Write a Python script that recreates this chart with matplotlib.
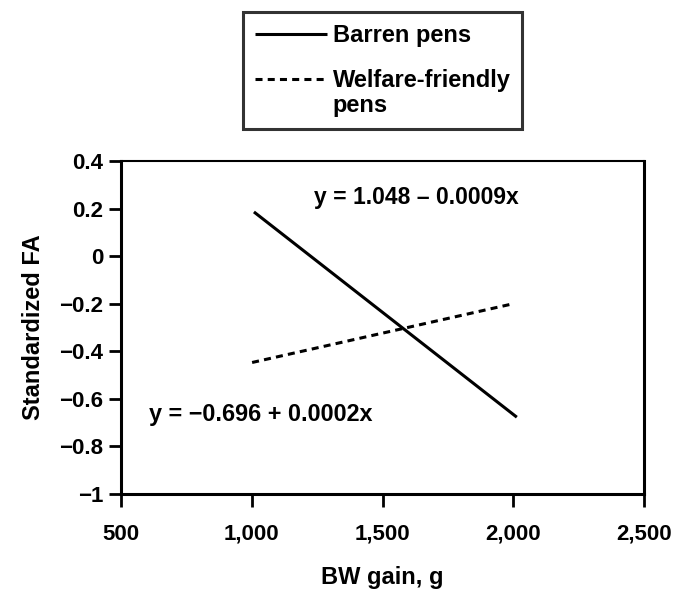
import numpy as np
import matplotlib.pyplot as plt
from matplotlib.legend_handler import HandlerLine2D

# %% data
bw_gain = [1008, 2014]          # g
barren_fa = [0.186, -0.677]
welfare_gain = [1001, 2000]
welfare_fa = [-0.447, -0.200]
xticks = [500, 1000, 1500, 2000, 2500]
xticklabels = ['500', '1,000', '1,500', '2,000', '2,500']
yticks = [0.4, 0.2, 0, -0.2, -0.4, -0.6, -0.8, -1]
yticklabels = ['0.4', '0.2', '0', '\u22120.2', '\u22120.4', '\u22120.6', '\u22120.8', '\u22121']
eq_barren = 'y = 1.048 \u2013 0.0009x'
eq_welfare = 'y = \u22120.696 + 0.0002x'

plt.rcParams['font.family'] = ['Liberation Sans', 'DejaVu Sans']
plt.rcParams['font.weight'] = 'bold'


class RaisedLine(HandlerLine2D):
    # put the legend handle next to the first line of a two-line label
    def __init__(self, dy=0, **kw):
        super().__init__(**kw)
        self.dy = dy

    def create_artists(self, legend, orig_handle, xdescent, ydescent,
                       width, height, fontsize, trans):
        return super().create_artists(legend, orig_handle, xdescent,
                                      ydescent - self.dy, width, height,
                                      fontsize, trans)


# %% plot
fig = plt.figure(figsize=(6.77, 5.92), dpi=100)
ax = fig.add_axes([0.179, 0.1655, 0.772, 0.5625])
l1, = ax.plot(bw_gain, barren_fa, color='black', lw=2.2, solid_capstyle='butt',
              label='Barren pens')
l2, = ax.plot(welfare_gain, welfare_fa, color='black', lw=2.2, dashes=(2.3, 1.7),
              label='Welfare-friendly\npens')
ax.set_xlim(500, 2500)
ax.set_ylim(-1, 0.4)
ax.set_xticks(xticks)
ax.set_xticklabels(xticklabels)
ax.set_yticks(yticks)
ax.set_yticklabels(yticklabels)
ax.tick_params(axis='both', direction='out', width=2, labelsize=16)
ax.tick_params(axis='x', length=9.5, pad=12)
ax.tick_params(axis='y', length=9, pad=4)
for side in ['left', 'bottom', 'right']:
    ax.spines[side].set_linewidth(2.2)
ax.spines['top'].set_linewidth(1.5)

ax.set_xlabel('BW gain, g', fontsize=17, fontweight='bold', labelpad=15)
ax.set_ylabel('Standardized FA', fontsize=17, fontweight='bold', labelpad=10)

ax.text(1628, 0.245, eq_barren, fontsize=16.5, fontweight='bold',
        ha='center', va='center')
ax.text(1035, -0.665, eq_welfare, fontsize=16.8, fontweight='bold',
        ha='center', va='center')

leg = fig.legend(handles=[l1, l2], loc='upper left',
                 bbox_to_anchor=(243 / 677, 1 - 12 / 592),
                 fontsize=17, frameon=True, fancybox=False, edgecolor='black',
                 handlelength=3.05, handletextpad=0.25, labelspacing=0.95,
                 borderpad=0.5, borderaxespad=0,
                 handler_map={l2: RaisedLine(dy=21)})
leg.get_frame().set_linewidth(2.2)
for t in leg.get_texts():
    t.set_fontweight('bold')
    t.set_linespacing(1.12)

fig.savefig('out.png', dpi=100)
